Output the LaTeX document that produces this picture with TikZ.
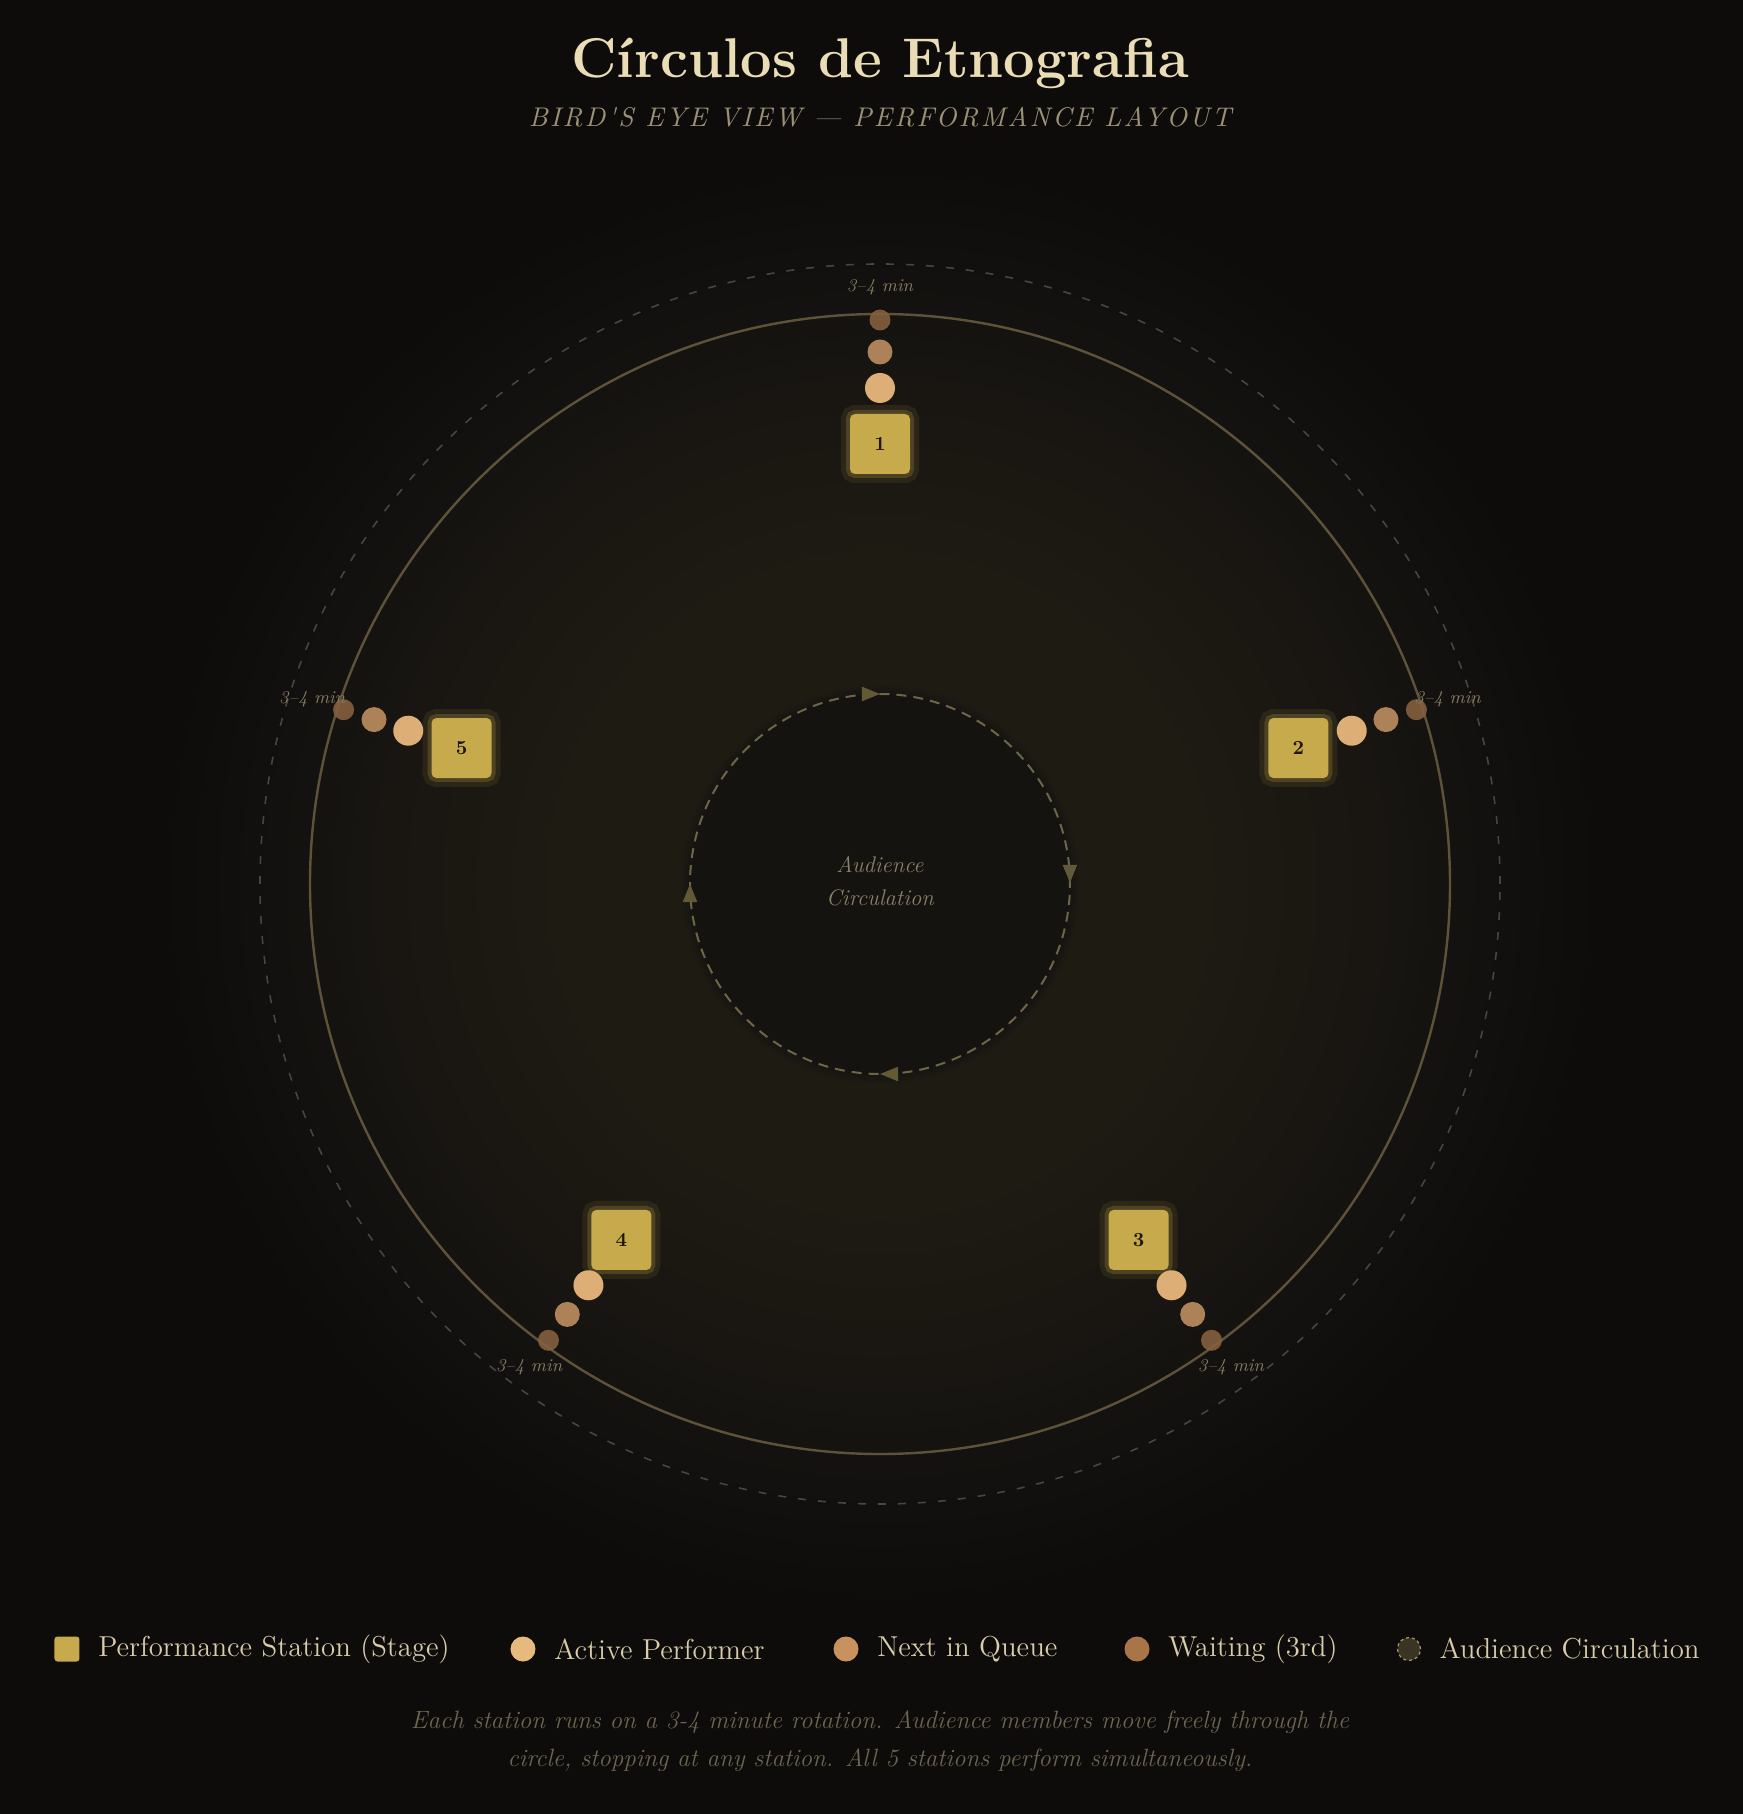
\documentclass[tikz,border=0pt]{standalone}
\usepackage{fontspec}
\usepackage{xcolor}
\usetikzlibrary{positioning, arrows.meta, decorations.markings}

\newfontfamily\spacedit{lmroman10-italic.otf}[LetterSpace=8.7]

\definecolor{bgc}{HTML}{0D0C0B}
\definecolor{glowin}{HTML}{141310}
\definecolor{glowpeak}{HTML}{1E1B13}
\definecolor{glowmid}{HTML}{191612}
\definecolor{glowout}{HTML}{12110F}
\definecolor{titlec}{HTML}{EADCB4}
\definecolor{subc}{HTML}{9C9175}
\definecolor{ringc}{HTML}{5E5339}
\definecolor{outerc}{HTML}{4A453B}
\definecolor{innerc}{HTML}{6E6547}
\definecolor{arrowc}{HTML}{625A36}
\definecolor{stagec}{HTML}{C6AA4B}
\definecolor{numc}{HTML}{1E160A}
\definecolor{activec}{HTML}{DDAE76}
\definecolor{nextc}{HTML}{AE8258}
\definecolor{waitc}{HTML}{84603F}
\definecolor{minc}{HTML}{877C60}
\definecolor{audc}{HTML}{8C8168}
\definecolor{legc}{HTML}{D8CCAA}
\definecolor{legactive}{HTML}{E6B97C}
\definecolor{legnext}{HTML}{C8925F}
\definecolor{legwait}{HTML}{A87548}
\definecolor{legaud}{HTML}{3A3423}
\definecolor{legauddash}{HTML}{A8986F}
\definecolor{footc}{HTML}{6E6551}

\pgfdeclareradialshading{stageglow}{\pgfpoint{0bp}{0bp}}{color(0bp)=(glowin); color(6.55bp)=(glowin); color(6.95bp)=(glowpeak); color(11bp)=(glowpeak); color(17bp)=(glowmid); color(21bp)=(glowout); color(25bp)=(bgc); color(50bp)=(bgc)}

\tikzset{
  stage/.style={rectangle, fill=stagec, draw=stagec, draw opacity=.22, line width=4pt,
    preaction={draw=stagec, draw opacity=.1, line width=9pt},
    rounded corners=2.5pt, minimum size=30pt, inner sep=0pt, text=numc,
    font=\bfseries\fontsize{10}{12}\selectfont},
  performer/.style={circle, fill=activec, minimum size=15pt, inner sep=0pt},
  queued/.style={circle, fill=nextc, minimum size=12.5pt, inner sep=0pt},
  waiting/.style={circle, fill=waitc, fill opacity=.9, minimum size=10.5pt, inner sep=0pt},
  minlabel/.style={font=\itshape\fontsize{9}{10}\selectfont, text=minc},
  legtext/.style={font=\fontsize{14.4}{16}\selectfont, text=legc, inner sep=0pt, anchor=west},
  flowtip/.style={solid, arrowc}
}

\begin{document}
\begin{tikzpicture}[x=0.5pt, y=0.5pt]
      \useasboundingbox (-880,-930) rectangle (863,884);
      \fill[bgc] (-880,-930) rectangle (863,884);
      \shade[shading=stageglow] (0,0) circle[radius=720];

      \node[font=\bfseries\fontsize{28}{30}\selectfont, text=titlec, anchor=base] (title) at (0,806) {Círculos de Etnografia};
      \node[font=\spacedit\fontsize{13.5}{16}\selectfont, text=subc, anchor=base] (subtitle) at (0,757) {BIRD'S EYE VIEW — PERFORMANCE LAYOUT};

      % rings
      \draw[outerc, line width=.8pt, dash pattern=on 4pt off 6pt] (0,0) circle[radius=620];
      \draw[ringc, line width=1.2pt] (0,0) circle[radius=570];
      \draw[innerc, line width=1pt, dash pattern=on 5pt off 3.5pt, postaction={decorate},
        decoration={markings,
          mark=at position 0.001 with {\arrowreversed[flowtip]{Triangle[length=9pt,width=7pt]}},
          mark=at position 0.25 with {\arrowreversed[flowtip]{Triangle[length=9pt,width=7pt]}},
          mark=at position 0.5 with {\arrowreversed[flowtip]{Triangle[length=9pt,width=7pt]}},
          mark=at position 0.75 with {\arrowreversed[flowtip]{Triangle[length=9pt,width=7pt]}}}]
        (0,0) circle[radius=190];
      \node[font=\itshape\fontsize{11.3}{16.5}\selectfont, text=audc, align=center] (audience) at (0,3) {Audience\\Circulation};

      % stations
      \node[stage] (s1) at (90:440) {1};
      \node[performer] (p1) at (90:496) {};
      \node[queued] (q1) at (90:532) {};
      \node[waiting] (w1) at (90:564) {};
      \node[minlabel] (m1) at (90:597) {3–4 min};

      \node[stage] (s2) at (18:440) {2};
      \node[performer] (p2) at (18:496) {};
      \node[queued] (q2) at (18:532) {};
      \node[waiting] (w2) at (18:564) {};
      \node[minlabel] (m2) at (18:597) {3–4 min};

      \node[stage] (s3) at (-54:440) {3};
      \node[performer] (p3) at (-54:496) {};
      \node[queued] (q3) at (-54:532) {};
      \node[waiting] (w3) at (-54:564) {};
      \node[minlabel] (m3) at (-54:597) {3–4 min};

      \node[stage] (s4) at (-126:440) {4};
      \node[performer] (p4) at (-126:496) {};
      \node[queued] (q4) at (-126:532) {};
      \node[waiting] (w4) at (-126:564) {};
      \node[minlabel] (m4) at (-126:597) {3–4 min};

      \node[stage] (s5) at (162:440) {5};
      \node[performer] (p5) at (162:496) {};
      \node[queued] (q5) at (162:532) {};
      \node[waiting] (w5) at (162:564) {};
      \node[minlabel] (m5) at (162:597) {3–4 min};

      % legend
      \node[rectangle, fill=stagec, rounded corners=1.5pt, minimum size=12.5pt, inner sep=0pt] (lstage) at (-813,-765) {};
      \node[legtext, right=9pt of lstage] (lstagetext) {Performance Station (Stage)};
      \node[circle, fill=legactive, minimum size=12.5pt, inner sep=0pt] (lactive) at (-357,-765) {};
      \node[legtext, right=9pt of lactive] (lactivetext) {Active Performer};
      \node[circle, fill=legnext, minimum size=12.5pt, inner sep=0pt] (lnext) at (-34,-765) {};
      \node[legtext, right=9pt of lnext] (lnexttext) {Next in Queue};
      \node[circle, fill=legwait, minimum size=12.5pt, inner sep=0pt] (lwait) at (257,-765) {};
      \node[legtext, right=9pt of lwait] (lwaittext) {Waiting (3rd)};
      \node[circle, fill=legaud, draw=legauddash, line width=.6pt, dash pattern=on 1.5pt off 1.5pt, minimum size=11.5pt, inner sep=0pt] (laud) at (529,-765) {};
      \node[legtext, right=9pt of laud] (laudtext) {Audience Circulation};

      \node[font=\itshape\fontsize{12.5}{19}\selectfont, text=footc, align=center] (note) at (0,-857) {Each station runs on a 3-4 minute rotation. Audience members move freely through the\\circle, stopping at any station. All 5 stations perform simultaneously.};
    \end{tikzpicture}
\end{document}
